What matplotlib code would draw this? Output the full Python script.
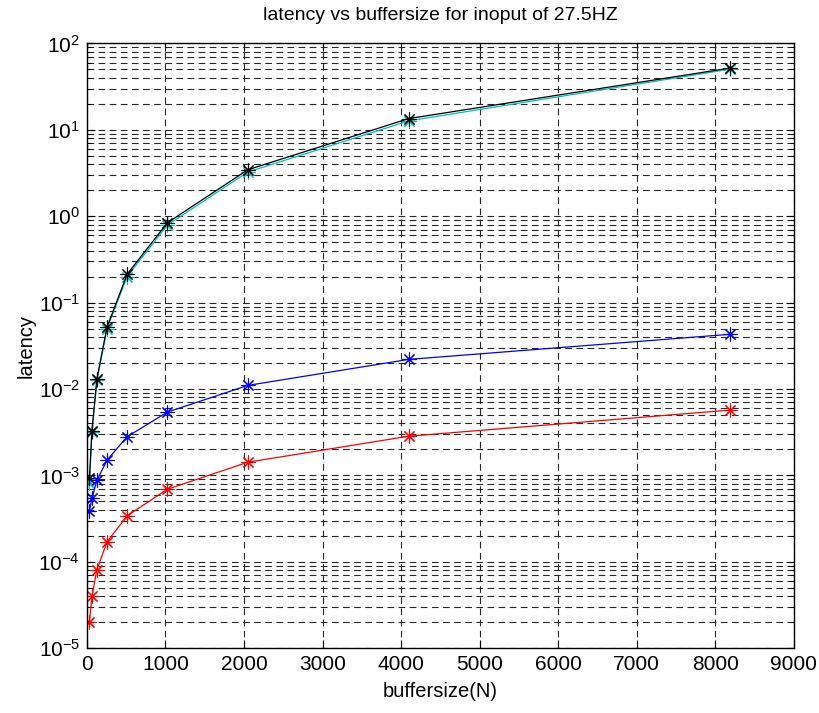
import matplotlib
matplotlib.use("Agg")
import matplotlib.pyplot as plt
from matplotlib.ticker import LogLocator, NullFormatter

plt.rcParams['font.family'] = ['Liberation Sans', 'DejaVu Sans']
plt.rcParams['mathtext.default'] = 'regular'

# buffer sizes (N)
buffersize = [32, 64, 128, 256, 512, 1024, 2048, 4096, 8192]

# latency
latency_black = [9.2e-4, 3.3e-3, 0.0132, 0.052, 0.213, 0.84, 3.45, 13.5, 52.0]
latency_cyan = [8.2e-4, 3.2e-3, 0.0127, 0.050, 0.200, 0.79, 3.25, 12.7, 50.5]
latency_blue = [3.9e-4, 5.4e-4, 8.8e-4, 1.5e-3, 2.8e-3, 5.4e-3, 0.011, 0.022, 0.043]
latency_red = [2.0e-5, 4.0e-5, 8.1e-5, 1.7e-4, 3.4e-4, 6.9e-4, 1.42e-3, 2.84e-3, 5.7e-3]

fig = plt.figure(figsize=(8.2, 7.13), dpi=100)
ax = fig.add_axes([0.106, 0.091, 0.862, 0.848])

star = (8, 2, 0)  # matlab style asterisk
for y, c in [(latency_cyan, 'c'), (latency_black, 'k'),
             (latency_blue, 'b'), (latency_red, 'r')]:
  ax.plot(buffersize, y, color=c, lw=0.9, marker=star, ms=10, mew=0.8)

ax.set_yscale('log')
ax.set_xlim(0, 9000)
ax.set_ylim(1e-5, 1e2)
ax.set_xticks(range(0, 9001, 1000))
ax.yaxis.set_major_locator(LogLocator(base=10, numticks=10))
ax.yaxis.set_minor_locator(LogLocator(base=10, subs=range(2, 10), numticks=20))
ax.yaxis.set_minor_formatter(NullFormatter())

ax.grid(True, which='major', axis='both', color='0.15', lw=0.8,
        linestyle=(0, (6, 4)))
ax.grid(True, which='minor', axis='y', color='0.15', lw=0.8,
        linestyle=(0, (6, 4)))
ax.set_axisbelow(True)

ax.tick_params(which='both', direction='in', top=True, right=True,
               labelsize=15)
ax.tick_params(which='major', length=6, width=0.8, pad=5)
ax.tick_params(which='minor', length=3, width=0.6)
for s in ax.spines.values():
  s.set_linewidth(1.0)

ax.set_title('latency vs buffersize for inoput of 27.5HZ', fontsize=14, pad=17)
ax.set_xlabel('buffersize(N)', fontsize=14.5, labelpad=6)
ax.set_ylabel('latency', fontsize=14.5, labelpad=2)

fig.savefig('out.png', dpi=100)
